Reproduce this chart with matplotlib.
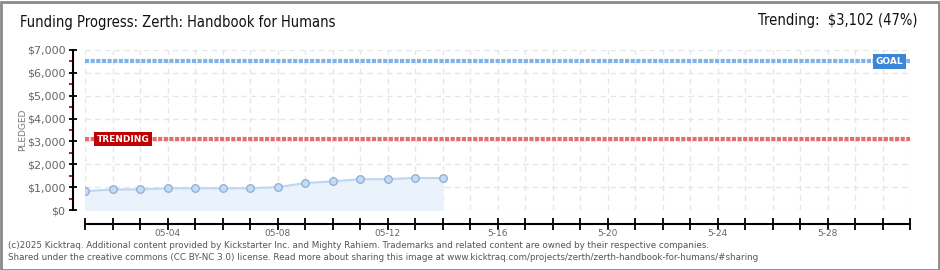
import matplotlib
matplotlib.use("Agg")
import matplotlib.pyplot as plt
import matplotlib.patches as mpatches
from matplotlib.ticker import FixedLocator, FuncFormatter

# ---- data ----
days = list(range(14))  # 05-01 .. 05-14 (day offset from 05-01)
pledged = [820, 900, 900, 950, 950, 950, 950, 1000, 1180, 1250, 1350, 1350, 1400, 1400]
goal = 6500
trending = 3102
trending_pct = 47
xtick_days = [3, 7, 11, 15, 19, 23, 27]
xtick_labels = ["05-04", "05-08", "05-12", "5-16", "5-20", "5-24", "5-28"]
n_days = 30

plt.rcParams['font.family'] = ['DejaVu Sans']

W, H = 940, 270
fig = plt.figure(figsize=(W / 100, H / 100), dpi=100)
fig.patch.set_facecolor('white')

# border
fig.patches.append(mpatches.Rectangle((0.5 / W, 0.5 / H), 1 - 2 / W, 1 - 2 / H,
                                      transform=fig.transFigure, fill=False,
                                      edgecolor='#8a8a8a', linewidth=2))

left, right = 85 / W, 910 / W
bottom, top = (H - 210) / H, (H - 50) / H
ax = fig.add_axes([left, bottom, right - left, top - bottom])
ax.set_xlim(0, n_days)
ax.set_ylim(0, 7000)

# grid
ax.set_xticks(range(0, n_days + 1))
ax.set_yticks(range(0, 7001, 1000))
ax.grid(True, color='#e6e6e6', linestyle=(0, (4, 3)), linewidth=1)
ax.set_axisbelow(True)

# fill + line
ax.fill_between(days, pledged, 0, color='#eaf2fc', zorder=1)
ax.plot(days, pledged, color='#bcd6f3', linewidth=1.5, zorder=2)
ax.scatter(days, pledged, s=30, facecolor='#c3dbf6', edgecolor='#8eadcf',
           linewidth=0.9, zorder=3)

# goal & trending lines
ax.axhline(goal, color='#7fb3ea', linewidth=3, linestyle=(0, (1, 0.35)), zorder=2)
ax.axhline(trending, color='#e07070', linewidth=3, linestyle=(0, (1, 0.35)), zorder=2)

ax.text(29.75, goal, "GOAL", ha='right', va='center', color='white', fontsize=6.5,
        fontweight='bold', zorder=5,
        bbox=dict(boxstyle='square,pad=0.3', facecolor='#3a87d9', edgecolor='none'))
ax.text(0.42, trending, "TRENDING", ha='left', va='center', color='white', fontsize=6.5,
        fontweight='bold', zorder=5,
        bbox=dict(boxstyle='square,pad=0.3', facecolor='#c00000', edgecolor='none'))

# spines
for s in ['top', 'right']:
    ax.spines[s].set_visible(False)
ax.spines['left'].set_position(('outward', 9))
ax.spines['bottom'].set_position(('outward', 10))
ax.spines['left'].set_color('black')
ax.spines['bottom'].set_color('black')
ax.spines['left'].set_linewidth(1.5)
ax.spines['bottom'].set_linewidth(1.5)

# y ticks
ax.yaxis.set_major_formatter(FuncFormatter(lambda v, p: f"${int(v):,}"))
ax.yaxis.set_minor_locator(FixedLocator([500 + 1000 * i for i in range(7)]))
ax.tick_params(axis='y', which='major', direction='inout', length=6, width=1.3,
               color='black', labelsize=8, labelcolor='#666666', pad=2)
ax.tick_params(axis='y', which='minor', direction='out', length=3, width=1.3,
               color='#d00000')

# x ticks
ax.tick_params(axis='x', which='major', direction='inout', length=8, width=1.3,
               color='black', labelsize=6.5, labelcolor='#666666', pad=0)
labels = [''] * (n_days + 1)
for d, l in zip(xtick_days, xtick_labels):
    labels[d] = l
ax.set_xticklabels(labels)

ax.set_ylabel("PLEDGED", fontsize=6.5, color='#777777', labelpad=0)

# titles
fig.text(20 / W, 1 - 23 / H, "Funding Progress: Zerth: Handbook for Humans",
         ha='left', va='center', fontsize=10.5, color='#111111', fontstretch='condensed')
fig.text(918 / W, 1 - 21 / H, f"Trending:  ${trending:,} ({trending_pct}%)",
         ha='right', va='center', fontsize=10.5, color='#111111', fontstretch='condensed')

# footer
fig.text(8 / W, 1 - 245 / H,
         "(c)2025 Kicktraq. Additional content provided by Kickstarter Inc. and Mighty Rahiem. "
         "Trademarks and related content are owned by their respective companies.",
         ha='left', va='center', fontsize=6.3, color='#555555')
fig.text(8 / W, 1 - 257 / H,
         "Shared under the creative commons (CC BY-NC 3.0) license. Read more about sharing this image at "
         "www.kicktraq.com/projects/zerth/zerth-handbook-for-humans/#sharing",
         ha='left', va='center', fontsize=6.3, color='#555555')

fig.savefig("out.png", dpi=100)
